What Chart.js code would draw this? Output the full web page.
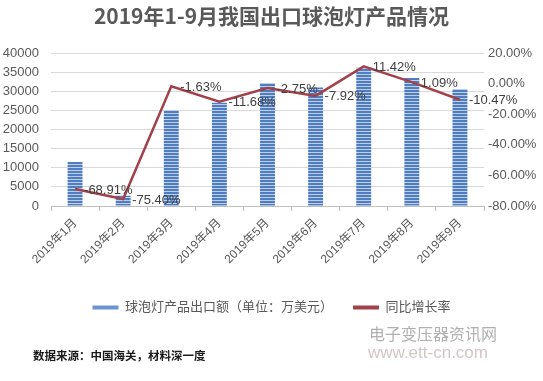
<!DOCTYPE html>
<html>
<head>
<meta charset="utf-8">
<script src="https://cdn.jsdelivr.net/npm/chart.js@4.4.1/dist/chart.umd.min.js"></script>
<style>
  html, body { margin: 0; padding: 0; background: #ffffff; }
  #wrap { position: relative; width: 543px; height: 381px; }
  canvas { display: block; }
</style>
</head>
<body>
<div id="wrap"><canvas id="c" width="543" height="381"></canvas></div>
<script>
const categories = ['2019年1月','2019年2月','2019年3月','2019年4月','2019年5月','2019年6月','2019年7月','2019年8月','2019年9月'];
const exportValues = [11500, 2700, 25100, 27000, 32200, 31000, 36200, 33500, 30600];
const growthRates = [-68.91, -75.40, -1.63, -11.68, -2.75, -7.92, 11.42, 1.09, -10.47];
const leftTicks = [0, 5000, 10000, 15000, 20000, 25000, 30000, 35000, 40000];
const rightTicks = [-80, -60, -40, -20, 0, 20];
const seriesNames = ['球泡灯产品出口额（单位：万美元）', '同比增长率'];
const titleText = '2019年1-9月我国出口球泡灯产品情况';
const sourceText = '数据来源：中国海关，材料深一度';
const watermarkCn = '电子变压器资讯网';
const watermarkUrl = 'www.ett-cn.com';

const FONT = '"Liberation Sans", "Noto Sans CJK SC", sans-serif';

function stripePattern() {
  const p = document.createElement('canvas');
  p.width = 4; p.height = 3;
  const g = p.getContext('2d');
  g.fillStyle = '#4f7dc0'; g.fillRect(0, 0, 4, 2);
  g.fillStyle = '#bcd0ec'; g.fillRect(0, 2, 4, 1);
  return document.getElementById('c').getContext('2d').createPattern(p, 'repeat');
}
const barFill = stripePattern();

const labelPlugin = {
  id: 'pointLabels',
  afterDatasetsDraw(chart) {
    const ctx = chart.ctx;
    const meta = chart.getDatasetMeta(0);
    ctx.save();
    ctx.font = '13px ' + FONT;
    ctx.fillStyle = '#404040';
    ctx.textAlign = 'left';
    ctx.textBaseline = 'middle';
    meta.data.forEach((pt, i) => {
      ctx.fillText(growthRates[i].toFixed(2) + '%', pt.x + 9, pt.y + 1);
    });
    ctx.restore();
  }
};

const footerPlugin = {
  id: 'footerText',
  afterDraw(chart) {
    const ctx = chart.ctx;
    ctx.save();
    ctx.textBaseline = 'middle';
    ctx.textAlign = 'left';
    ctx.font = 'bold 11.5px "Noto Sans CJK SC", sans-serif';
    ctx.fillStyle = '#1a1a1a';
    ctx.fillText(sourceText, 33, 356);
    ctx.font = '16px "Noto Sans CJK SC", sans-serif';
    ctx.fillStyle = '#b0b0b0';
    ctx.fillText(watermarkCn, 369, 334);
    ctx.font = '17px "Liberation Sans", sans-serif';
    ctx.fillStyle = '#d3c6c6';
    ctx.fillText(watermarkUrl, 368, 353);
    ctx.restore();
  }
};

new Chart(document.getElementById('c'), {
  data: {
    labels: categories,
    datasets: [
      {
        type: 'line',
        label: seriesNames[1],
        data: growthRates,
        yAxisID: 'y1',
        borderColor: '#a3414a',
        backgroundColor: '#a3414a',
        borderWidth: 2.5,
        pointRadius: 0,
        tension: 0,
        order: 0
      },
      {
        type: 'bar',
        label: seriesNames[0],
        data: exportValues,
        yAxisID: 'y',
        backgroundColor: barFill,
        borderWidth: 0,
        categoryPercentage: 1,
        barPercentage: 0.31,
        order: 1
      }
    ]
  },
  options: {
    responsive: false,
    animation: false,
    devicePixelRatio: 1,
    layout: { padding: { left: 0, right: 0, top: 0, bottom: 57 } },
    plugins: {
      title: {
        display: true,
        text: titleText,
        color: '#595959',
        font: { family: '"Noto Sans CJK SC", sans-serif', size: 21, weight: 'bold' },
        padding: { top: 3, bottom: 25 }
      },
      legend: {
        position: 'bottom',
        labels: {
          color: '#595959',
          font: { family: FONT, size: 13 },
          boxWidth: 26,
          boxHeight: 4,
          padding: 20,
          generateLabels(chart) {
            return [
              { text: seriesNames[0], fillStyle: '#6b93cf', strokeStyle: '#6b93cf', lineWidth: 0, datasetIndex: 1, hidden: false, fontColor: '#595959' },
              { text: seriesNames[1], fillStyle: '#a3414a', strokeStyle: '#a3414a', lineWidth: 0, datasetIndex: 0, hidden: false, fontColor: '#595959' }
            ];
          }
        }
      },
      tooltip: { enabled: false }
    },
    scales: {
      x: {
        offset: true,
        grid: { display: true, drawOnChartArea: false, offset: true, tickLength: 5, color: '#bfbfbf' },
        border: { display: true, color: '#bfbfbf' },
        ticks: {
          color: '#595959',
          font: { family: FONT, size: 12 },
          minRotation: 45,
          maxRotation: 45,
          padding: 5
        },
        afterFit(s) { s.height = 75; }
      },
      y: {
        position: 'left',
        min: leftTicks[0],
        max: leftTicks[leftTicks.length - 1],
        afterBuildTicks(s) { s.ticks = leftTicks.map(v => ({ value: v })); },
        grid: { color: '#d9d9d9', drawTicks: false },
        border: { display: false },
        ticks: { color: '#595959', font: { family: FONT, size: 13 }, padding: 12, callback: v => String(v) },
        afterFit(s) { s.width = 51; }
      },
      y1: {
        position: 'right',
        min: rightTicks[0],
        max: rightTicks[rightTicks.length - 1],
        afterBuildTicks(s) { s.ticks = rightTicks.map(v => ({ value: v })); },
        grid: { drawOnChartArea: false, drawTicks: false },
        border: { display: false },
        ticks: {
          color: '#595959',
          font: { family: FONT, size: 13 },
          padding: 4,
          callback: v => v.toFixed(2) + '%'
        },
        afterFit(s) { s.width = 59; }
      }
    }
  },
  plugins: [labelPlugin, footerPlugin]
});
</script>
</body>
</html>
